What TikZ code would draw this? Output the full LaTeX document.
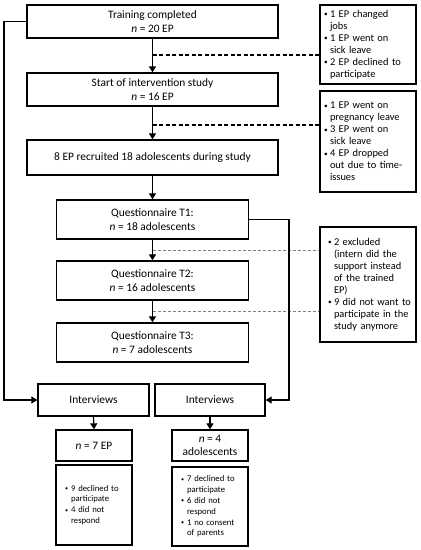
\documentclass[tikz,border=0pt]{standalone}
\usepackage{fontspec}
\setmainfont{Carlito}
\usetikzlibrary{arrows.meta}
\newcommand{\mainfs}{\fontsize{11.4}{13.7}\selectfont}
\newcommand{\sidefs}{\fontsize{10.4}{12}\selectfont}
\newcommand{\botfs}{\fontsize{8.7}{10.8}\selectfont}
\newcommand{\mybul}{\raisebox{0.15ex}{\scalebox{0.7}{\textbullet}}}
\newcommand{\bl}[1]{\mbox{\makebox[6pt][l]{\mybul}#1}}
\newcommand{\ct}[1]{\mbox{\hspace*{6pt}#1}}
\hbadness=10000 \hfuzz=100pt
\begin{document}
\begin{tikzpicture}[x=1pt,y=-1pt,
  box/.style={draw, line width=1.3pt, align=center, inner sep=0pt, font=\mainfs},
  side/.style={draw, line width=1.3pt, align=left, inner ysep=0pt, inner xsep=4pt, text width=88pt, minimum width=96pt, font=\sidefs},
  bot/.style={draw, line width=1.3pt, align=left, inner ysep=0pt, inner xsep=9pt, text width=58pt, minimum width=76pt, font=\botfs},
  arr/.style={line width=1.2pt, -{Triangle[length=6pt,width=7pt]}},
  dline/.style={line width=1.2pt, dash pattern=on 4pt off 2.5pt},
  gline/.style={line width=0.6pt, gray, dash pattern=on 3pt off 2pt}]
\useasboundingbox (0,0) rectangle (421,550);

% main column
\node[box, minimum width=251pt, minimum height=33pt] (train) at (152.5,21.5) {Training completed\\\textit{n} = 20 EP};
\node[box, minimum width=251pt, minimum height=33pt] (start) at (152.5,89.5) {Start of intervention study\\\textit{n} = 16 EP};
\node[box, minimum width=251pt, minimum height=35pt] (recr) at (152.5,157.5) {8 EP recruited 18 adolescents during study};
\node[box, minimum width=192pt, minimum height=39pt] (q1) at (152.5,219.5) {Questionnaire T1:\\\textit{n} = 18 adolescents};
\node[box, minimum width=192pt, minimum height=39pt] (q2) at (152.5,280.5) {Questionnaire T2:\\\textit{n} = 16 adolescents};
\node[box, minimum width=192pt, minimum height=39pt] (q3) at (152.5,342.5) {Questionnaire T3:\\\textit{n} = 7 adolescents};

% interviews
\node[box, minimum width=111pt, minimum height=32pt] (int1) at (93.5,400) {Interviews};
\node[box, minimum width=110pt, minimum height=32pt] (int2) at (210,400) {Interviews};
\node[box, minimum width=76pt, minimum height=31pt] (n7) at (94,445.5) {\textit{n} = 7 EP};
\node[box, minimum width=76pt, minimum height=31pt] (n4) at (210,445.5) {\textit{n} = 4\\adolescents};
\node[bot, minimum height=80pt] (b1) at (94,505) {\bl{9 declined to}\\\ct{participate}\\\bl{4 did not}\\\ct{respond}};
\node[bot, minimum height=79pt] (b2) at (210,506.5) {\bl{7 declined to}\\\ct{participate}\\\bl{6 did not}\\\ct{respond}\\\bl{1 no consent}\\\ct{of parents}};

% side boxes
\node[side, minimum height=79pt] (s1) at (368,44.5) {\bl{1 EP changed}\\\ct{jobs}\\\bl{1 EP went on}\\\ct{sick leave}\\\bl{2 EP declined to}\\\ct{participate}};
\node[side, minimum height=101pt] (s2) at (368,141.5) {\bl{1 EP went on}\\\ct{pregnancy leave}\\\bl{3 EP went on}\\\ct{sick leave}\\\bl{4 EP dropped}\\\ct{out due to time-}\\\ct{issues}};
\node[side, minimum height=115pt, inner xsep=8pt, text width=80pt] (s3) at (368,284.5) {\bl{2 excluded}\\\ct{(intern did the}\\\ct{support instead}\\\ct{of the trained}\\\ct{EP)}\\\bl{9 did not want to}\\\ct{participate in the}\\\ct{study anymore}};

% vertical arrows
\draw[arr] (train.south) -- (start.north);
\draw[arr] (start.south) -- (recr.north);
\draw[arr] (recr.south) -- (q1.north);
\draw[arr] (q1.south) -- (q2.north);
\draw[arr] (q2.south) -- (q3.north);
\draw[arr] (int1.south) -- (n7.north);
\draw[arr] (int2.south) -- (n4.north);

% side connectors
\coordinate (d1) at (152.5,55);
\coordinate (d2) at (152.5,125);
\coordinate (d3) at (152.5,250);
\coordinate (d4) at (152.5,311);
\draw[dline] (d1) -- (d1 -| s1.west);
\draw[dline] (d2) -- (d2 -| s2.west);
\draw[gline] (d3) -- (d3 -| s3.west);
\draw[gline] (d4) -- (d4 -| s3.west);

% outer connectors
\coordinate (lx) at (4,400);
\coordinate (rx) at (289,400);
\draw[arr] (train.west) -| (lx) -- (int1.west);
\draw[arr] (q1.east) -| (rx) -- (int2.east);
\end{tikzpicture}
\end{document}
